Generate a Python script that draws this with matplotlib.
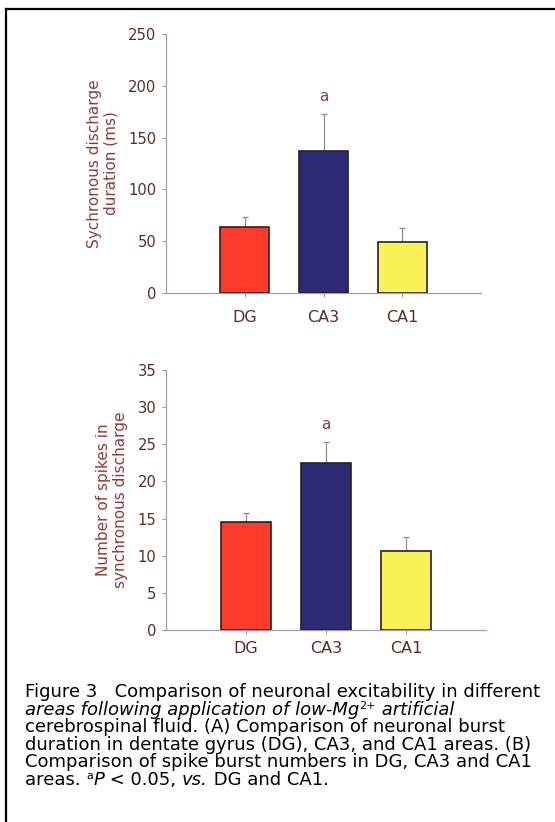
import matplotlib
matplotlib.use("Agg")
import matplotlib.pyplot as plt
from matplotlib.lines import Line2D

# --- data ---
areas = ["DG", "CA3", "CA1"]
duration_ms = [64, 137, 49]
duration_err = [9, 36, 14]
spikes = [14.5, 22.5, 10.7]
spikes_err = [1.2, 2.8, 1.8]
bar_colors = ["#ff3b2c", "#2b2a72", "#f9f257"]

caption_lines = [
    [("Figure 3   Comparison of neuronal excitability in different", "normal", 0)],
    [("areas following application of low-Mg", "italic", 0), ("2+", "normal", 1),
     (" artificial", "italic", 0)],
    [("cerebrospinal fluid. (A) Comparison of neuronal burst", "normal", 0)],
    [("duration in dentate gyrus (DG), CA3, and CA1 areas. (B)", "normal", 0)],
    [("Comparison of spike burst numbers in DG, CA3 and CA1", "normal", 0)],
    [("areas. ", "normal", 0), ("a", "normal", 1), ("P", "italic", 0),
     (" < 0.05, ", "normal", 0), ("vs.", "italic", 0), (" DG and CA1.", "normal", 0)],
]

plt.rcParams["font.family"] = ["DejaVu Sans"]

AXIS_COL = "#a49cbc"
TICK_COL = "#5c2a2a"
LABEL_COL = "#8a3c3c"
W, H = 555, 822

fig = plt.figure(figsize=(W / 100, H / 100), dpi=100)


def make_panel(rect, values, errs, ymax, ystep, ylabel, xpad):
    ax = fig.add_axes(rect)
    pos = [1, 2, 3]
    ax.bar(pos, values, width=0.62, color=bar_colors, edgecolor="#2a2020",
           linewidth=1.2, zorder=3)
    ax.errorbar(pos, values, yerr=[[0, 0, 0], errs], fmt="none",
                ecolor="#8a8aa0", elinewidth=0.9, capsize=2.5, capthick=0.9, zorder=2)
    ax.set_xlim(0, 4.0)
    ax.set_ylim(0, ymax)
    ax.set_yticks(range(0, ymax + 1, ystep))
    ax.set_xticks(pos)
    ax.set_xticklabels(areas)
    for s in ["top", "right"]:
        ax.spines[s].set_visible(False)
    for s in ["left", "bottom"]:
        ax.spines[s].set_color(AXIS_COL)
        ax.spines[s].set_linewidth(0.9)
    ax.tick_params(axis="y", colors=AXIS_COL, labelcolor=TICK_COL, labelsize=10.6,
                   length=3, width=0.8, pad=4)
    ax.tick_params(axis="x", colors=AXIS_COL, labelcolor=TICK_COL, labelsize=11.5,
                   length=3, width=0.8, pad=xpad)
    ax.set_ylabel(ylabel, color=LABEL_COL, fontsize=11, labelpad=7, linespacing=1.1)
    ax.set_facecolor("none")
    # significance letter over CA3
    ax.annotate("a", xy=(2, values[1] + errs[1]), xytext=(0, 7),
                textcoords="offset points", ha="center", va="bottom",
                color=LABEL_COL, fontsize=11)
    return ax


make_panel([166 / W, 1 - 293 / H, 315 / W, 259 / H], duration_ms, duration_err,
           250, 50, "Sychronous discharge\nduration (ms)", 9)
make_panel([166 / W, 1 - 630 / H, 320 / W, 260 / H], spikes, spikes_err,
           35, 5, "Number of spikes in\nsynchronous discharge", 5)

# frame lines of the scanned page
fig.add_artist(Line2D([6 / W, 1], [1 - 9 / H, 1 - 9 / H], color="black", lw=1.6))
fig.add_artist(Line2D([6 / W, 6 / W], [0, 1 - 9 / H], color="black", lw=1.6))

# caption, drawn run by run so italics and superscripts line up
fig.canvas.draw()
renderer = fig.canvas.get_renderer()
probe = fig.text(0, 0, caption_lines[0][0][0], fontsize=10)
cap_size = 10 * 515 / probe.get_window_extent(renderer).width
probe.remove()
y0 = 697
for i, line in enumerate(caption_lines):
    x = 25
    ybase = y0 + i * 17.6
    for txt, style, sup in line:
        size = cap_size * 0.62 if sup else cap_size
        yy = ybase - (6 if sup else 0)
        t = fig.text(x / W, 1 - yy / H, txt, fontsize=size, style=style,
                     color="black", ha="left", va="baseline")
        x += t.get_window_extent(renderer).width

fig.savefig("out.png", dpi=100)
